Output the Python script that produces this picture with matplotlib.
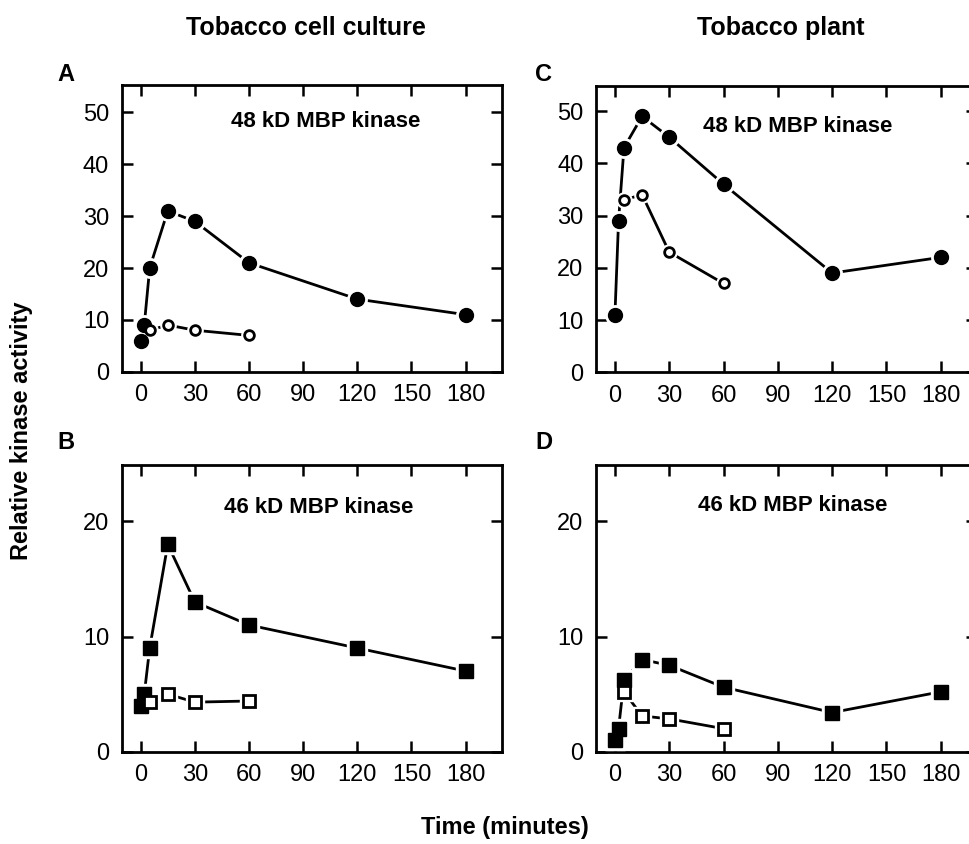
import matplotlib
matplotlib.use("Agg")
import matplotlib.pyplot as plt

plt.rcParams['font.family'] = ['Liberation Sans', 'DejaVu Sans']

##############################################################################
# Values
time_long = [0, 2, 5, 15, 30, 60, 120, 180]
time_short = [5, 15, 30, 60]

# A: tobacco cell culture, 48 kD MBP kinase
a_filled = [6, 9, 20, 31, 29, 21, 14, 11]
a_open = [8, 9, 8, 7]
# B: tobacco cell culture, 46 kD MBP kinase
b_filled = [4, 5, 9, 18, 13, 11, 9, 7]
b_open = [4.3, 5, 4.3, 4.4]
# C: tobacco plant, 48 kD MBP kinase
c_filled = [11, 29, 43, 49, 45, 36, 19, 22]
c_open = [33, 34, 23, 17]
# D: tobacco plant, 46 kD MBP kinase
d_filled = [1, 2, 6.2, 8, 7.5, 5.6, 3.4, 5.2]
d_open = [5.2, 3.1, 2.85, 2.0]

x_ticks = [0, 30, 60, 90, 120, 150, 180]

panels = [
    # letter, rect, filled, open, marker, inner title, ylim, yticks, title pos
    ("A", [0.1256, 0.5596, 0.3922, 0.3397], a_filled, a_open, 'o', "48 kD MBP kinase", 55.3, [0, 10, 20, 30, 40, 50], (0.538, 0.871)),
    ("B", [0.1256, 0.1094, 0.3922, 0.3397], b_filled, b_open, 's', "46 kD MBP kinase", 24.9, [0, 10, 20], (0.517, 0.853)),
    ("C", [0.6150, 0.5589, 0.3932, 0.3392], c_filled, c_open, 'o', "48 kD MBP kinase", 54.8, [0, 10, 20, 30, 40, 50], (0.529, 0.860)),
    ("D", [0.6150, 0.1094, 0.3932, 0.3397], d_filled, d_open, 's', "46 kD MBP kinase", 24.9, [0, 10, 20], (0.516, 0.857)),
]

fig = plt.figure(figsize=(9.69, 8.44), dpi=100)

for letter, rect, filled, opn, mk, inner, ytop, yticks, tpos in panels:
    ax = fig.add_axes(rect)
    if mk == 'o':
        ms_f, ms_o = 10, 7
    else:
        ms_f, ms_o = 10, 8.5
    # lines first
    ax.plot(time_long, filled, '-', color='k', lw=2.0, zorder=2)
    ax.plot(time_short, opn, '-', color='k', lw=2.0, zorder=2)
    # white halo so the lines stop short of the symbols
    ax.plot(time_long, filled, ls='none', marker=mk, ms=ms_f + 4, mfc='white', mec='white', zorder=3)
    ax.plot(time_short, opn, ls='none', marker=mk, ms=ms_o + 4, mfc='white', mec='white', zorder=3)
    ax.plot(time_long, filled, ls='none', marker=mk, ms=ms_f, mfc='k', mec='k', zorder=4)
    ax.plot(time_short, opn, ls='none', marker=mk, ms=ms_o, mfc='white', mec='k', mew=2.0, zorder=5)

    ax.set_xlim(-10.5, 200)
    ax.set_ylim(0, ytop)
    ax.set_xticks(x_ticks)
    ax.set_yticks(yticks)
    ax.tick_params(direction='in', top=True, right=True, length=8, width=1.8,
                   labelsize=17, pad=9)
    for sp in ax.spines.values():
        sp.set_linewidth(2.0)
    ax.text(tpos[0], tpos[1], inner, transform=ax.transAxes, ha='center', va='center',
            fontsize=16, fontweight='bold')

    lx = 0.0588 if letter in "AB" else 0.552
    ly = 0.9123 if letter in "AC" else 0.4763
    fig.text(lx, ly, letter, fontsize=17, fontweight='bold', ha='left', va='center')

fig.text(0.3158, 0.9668, "Tobacco cell culture", fontsize=18, fontweight='bold', ha='center', va='center')
fig.text(0.806, 0.9668, "Tobacco plant", fontsize=18, fontweight='bold', ha='center', va='center')
fig.text(0.0227, 0.49, "Relative kinase activity", fontsize=17, fontweight='bold',
         rotation=90, ha='center', va='center')
fig.text(0.521, 0.019, "Time (minutes)", fontsize=17, fontweight='bold', ha='center', va='center')

fig.savefig("out.png", dpi=100)
